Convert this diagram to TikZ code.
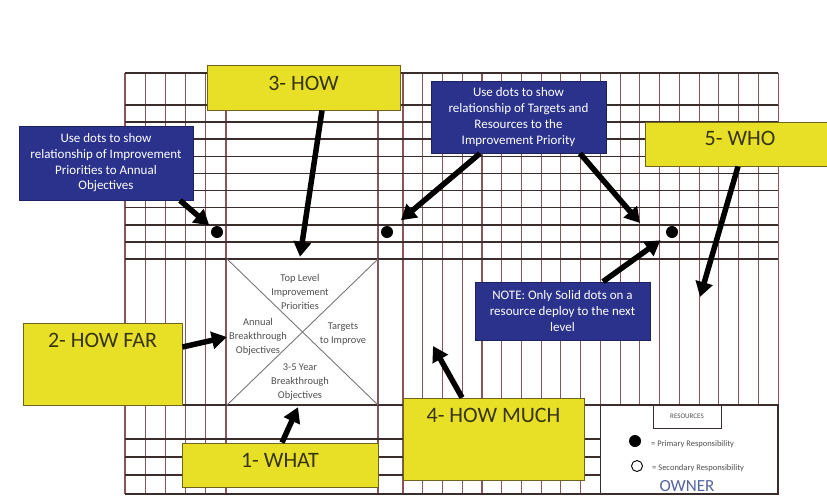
\documentclass[tikz,border=0pt]{standalone}
\usepackage{fontspec}
\setmainfont{Carlito}
\usetikzlibrary{arrows.meta}
\definecolor{hosYellow}{RGB}{232,224,38}
\definecolor{hosOlive}{RGB}{110,100,30}
\definecolor{hosOliveText}{RGB}{55,52,15}
\definecolor{hosNavy}{RGB}{42,50,140}
\definecolor{hosRow}{RGB}{60,45,45}
\definecolor{hosCol}{RGB}{135,85,90}
\definecolor{hosCellText}{RGB}{80,80,80}
\definecolor{hosDiag}{RGB}{120,120,120}
\definecolor{hosOwner}{RGB}{85,100,160}
\begin{document}
\begin{tikzpicture}[x=1pt, y=-1pt,
    hosYellowStyle/.style={draw=hosOlive, line width=0.9pt, fill=hosYellow, text=hosOliveText, font=\fontsize{22}{26}\selectfont, inner sep=0pt},
    hosBlueStyle/.style={draw=hosNavy!70!black, line width=0.8pt, fill=hosNavy, text=white, align=center, font=\fontsize{13}{15.7}\selectfont, inner sep=0pt},
    hosCellStyle/.style={align=center, text=hosCellText, font=\fontsize{10.4}{14}\selectfont, inner sep=0pt},
    hosKeyStyle/.style={anchor=west, text=hosCellText, font=\fontsize{8.5}{10}\selectfont, inner sep=0pt},
    hosArrowStyle/.style={-{Triangle[length=15pt,width=17pt]}, line width=5.5pt},
    hosDotStyle/.style={circle, fill=black, inner sep=0pt, minimum size=12pt},
    hosRowStyle/.style={draw=hosRow, line width=1.6pt},
    hosColStyle/.style={draw=hosCol, line width=1.1pt}]

    \useasboundingbox (0,0) rectangle (827,496);
    \clip (0,0) rectangle (827,496);
    \fill[white] (0,0) rectangle (827,496);

    % matrix grid
    \foreach \i in {0,...,5}
        \draw[hosColStyle] (125+20.2*\i,73) -- (125+20.2*\i,494);
    \draw[hosColStyle] (378,73) -- (378,494);
    \foreach \i in {0,...,10}
        \draw[hosColStyle] (403+19.74*\i,73) -- (403+19.74*\i,494);
    \foreach \i in {11,...,19}
        \draw[hosColStyle] (403+19.74*\i,73) -- (403+19.74*\i,405);
    \draw[hosRowStyle] (125,73) -- (778,73);
    \foreach \i in {0,...,9}
        \draw[hosRowStyle] (125,105+17.1*\i) -- (778,105+17.1*\i);
    \draw[hosRowStyle] (125,405) -- (778,405);
    \foreach \y in {439,457,475}
        \draw[hosRowStyle] (125,\y) -- (600.4,\y);
    \draw[hosRowStyle] (125,494) -- (778,494);

    % centre X box
    \node[inner sep=0pt, minimum width=151pt, minimum height=146pt] (xbox) at (302.5,332) {};
    \draw[hosDiag, line width=0.9pt] (xbox.north west) -- (xbox.south east);
    \draw[hosDiag, line width=0.9pt] (xbox.north east) -- (xbox.south west);
    \node[hosCellStyle] (topText) at (300,292) {Top Level\\Improvement\\Priorities};
    \node[hosCellStyle] (leftText) at (258,337) {Annual\\Breakthrough\\Objectives};
    \node[hosCellStyle] (rightText) at (343,333.5) {Targets\\to Improve};
    \node[hosCellStyle] (bottomText) at (300,382) {3-5 Year\\Breakthrough\\Objectives};

    % legend
    \node[draw=hosRow, line width=1.2pt, fill=white, inner sep=0pt, minimum width=177.6pt, minimum height=89pt] (legend) at (689.2,449.5) {};
    \node[draw=hosRow, line width=0.8pt, inner sep=0pt, minimum width=68pt, minimum height=23pt, text=hosCellText, font=\fontsize{7}{8}\selectfont] (res) at (687,416.5) {RESOURCES};
    \node[hosDotStyle] (keyFull) at (635,441) {};
    \node[circle, draw=black, line width=0.9pt, inner sep=0pt, minimum size=11pt] (keyOpen) at (637,466) {};
    \node[hosKeyStyle] (keyFullText) at (651,444) {= Primary Responsibility};
    \node[hosKeyStyle] (keyOpenText) at (652,468) {= Secondary Responsibility};
    \node[text=hosOwner, font=\fontsize{17}{20}\selectfont, inner sep=0pt] (owner) at (687,486.5) {OWNER};

    % yellow steps
    \node[hosYellowStyle, minimum width=193pt, minimum height=45pt, text depth=9pt] (how) at (303.5,87.5) {3- HOW};
    \node[hosYellowStyle, minimum width=190pt, minimum height=44pt, text depth=12pt] (who) at (740,144) {5- WHO};
    \node[hosYellowStyle, minimum width=159pt, minimum height=82pt, text depth=48pt] (howFar) at (102.5,364) {2- HOW FAR};
    \node[hosYellowStyle, minimum width=196pt, minimum height=44pt, text depth=10pt] (what) at (280,465) {1- WHAT};
    \node[hosYellowStyle, minimum width=181pt, minimum height=82pt, text depth=48pt] (howMuch) at (493.5,439) {4- HOW MUCH};

    % blue notes
    \node[hosBlueStyle, minimum width=174pt, minimum height=74pt] (useL) at (106,163) {Use dots to show\\relationship of Improvement\\Priorities to Annual\\Objectives};
    \node[hosBlueStyle, minimum width=175pt, minimum height=72pt] (useM) at (518.5,117) {Use dots to show\\relationship of Targets and\\Resources to the\\Improvement Priority};
    \node[hosBlueStyle, minimum width=175pt, minimum height=58pt] (note) at (562.5,311) {NOTE: Only Solid dots on a\\resource deploy to the next\\level};

    % dots
    \node[hosDotStyle] (dotA) at (217,232) {};
    \node[hosDotStyle] (dotB) at (387,232) {};
    \node[hosDotStyle] (dotC) at (672,232) {};
    \coordinate (tipMidR) at (640,223);
    \coordinate (tipWho) at (700,297);
    \coordinate (tipMuch) at (433,346);

    \draw[hosArrowStyle, shorten >=4pt] ([xshift=74pt]useL.south) -- (dotA);
    \draw[hosArrowStyle] ([xshift=18.5pt]how.south) -- ([xshift=-2.5pt,yshift=2pt]xbox.north);
    \draw[hosArrowStyle, shorten >=12pt] ([xshift=-38.5pt]useM.south) -- (dotB);
    \draw[hosArrowStyle] ([xshift=61.5pt]useM.south) -- (tipMidR);
    \draw[hosArrowStyle] ([xshift=-2pt]who.south) -- (tipWho);
    \draw[hosArrowStyle, shorten >=8pt] ([xshift=40.5pt]note.north) -- (dotC);
    \draw[hosArrowStyle] ([yshift=17pt]howFar.east) -- ([yshift=-5pt]xbox.west);
    \draw[hosArrowStyle] ([xshift=2pt]what.north) -- ([xshift=-4.5pt,yshift=-2pt]xbox.south);
    \draw[hosArrowStyle] ([xshift=-31.5pt]howMuch.north) -- (tipMuch);
\end{tikzpicture}
\end{document}
